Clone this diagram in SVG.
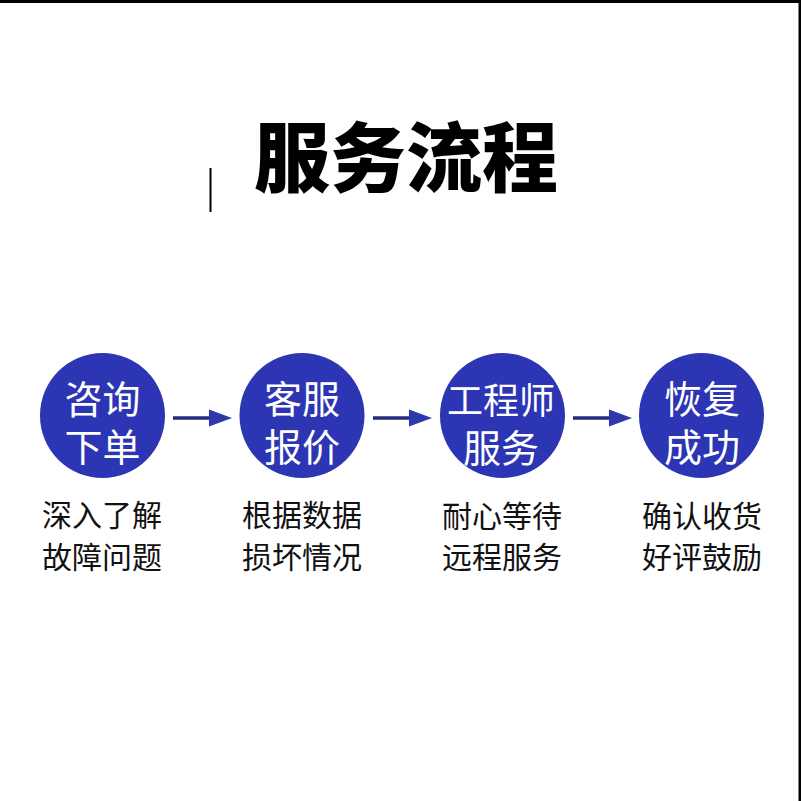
<svg xmlns="http://www.w3.org/2000/svg" width="801" height="801" viewBox="0 0 801 801">
<style>
.font{font-family:"Noto Sans CJK SC","Noto Sans",sans-serif}
.title{font-size:76px;font-weight:900;fill:#000}
.node circle{fill:#2c35b3}
.in{font-size:38px;fill:#fff;text-anchor:middle;dominant-baseline:central}
.sub{font-size:30px;fill:#111;text-anchor:middle;dominant-baseline:central}
.conn line{stroke:#262b78;stroke-width:3.5}
.conn polygon{fill:#2f37ad}
</style>
<rect x="0" y="0" width="801" height="801" fill="#fff"/>
<rect x="0" y="0" width="801" height="3" fill="#000"/>
<rect x="798.5" y="0" width="2.5" height="801" fill="#000"/>
<rect x="209.5" y="168" width="2" height="44" fill="#000"/>
<text class="font title" x="406" y="153" text-anchor="middle" dominant-baseline="central">服务流程</text>

<g id="node1" class="node font">
<circle cx="102.5" cy="415.5" r="62.5"/>
<text class="in" x="102.5" y="396">咨询<tspan x="102.5" dy="48">下单</tspan></text>
<text class="sub" x="102" y="513">深入了解<tspan x="102" dy="42">故障问题</tspan></text>
</g>
<g id="node2" class="node font">
<circle cx="302" cy="415.5" r="62.5"/>
<text class="in" x="302" y="396">客服<tspan x="302" dy="48">报价</tspan></text>
<text class="sub" x="302" y="513">根据数据<tspan x="302" dy="42">损坏情况</tspan></text>
</g>
<g id="node3" class="node font">
<circle cx="502.5" cy="415.5" r="62.5"/>
<text class="in" x="501" y="398"><tspan style="font-size:36px">工程师</tspan><tspan x="501" dy="47">服务</tspan></text>
<text class="sub" x="502" y="514">耐心等待<tspan x="502" dy="41">远程服务</tspan></text>
</g>
<g id="node4" class="node font">
<circle cx="701.5" cy="415.5" r="62.5"/>
<text class="in" x="702" y="396">恢复<tspan x="702" dy="48">成功</tspan></text>
<text class="sub" x="702" y="514">确认收货<tspan x="702" dy="41">好评鼓励</tspan></text>
</g>

<g id="connectors" class="conn">
<line x1="173" y1="418" x2="211" y2="418"/>
<polygon points="209,409.5 232,418 209,426.5"/>
<line x1="373" y1="418" x2="411" y2="418"/>
<polygon points="409,409.5 432,418 409,426.5"/>
<line x1="573" y1="418" x2="611" y2="418"/>
<polygon points="609,409.5 632,418 609,426.5"/>
</g>
</svg>
